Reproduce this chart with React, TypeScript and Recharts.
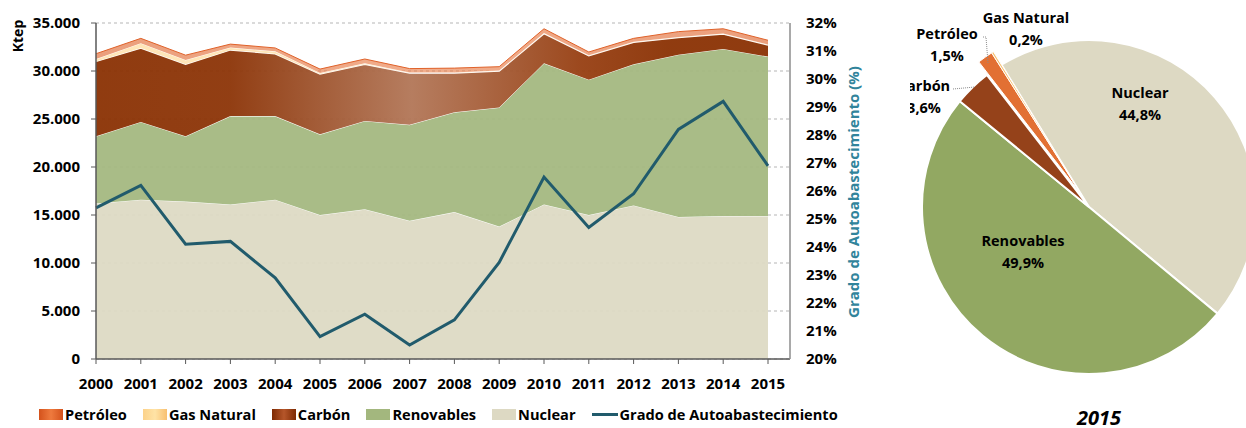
import React from 'react';
import { ComposedChart, Area, Line, XAxis, YAxis, CartesianGrid, PieChart, Pie, Cell } from 'recharts';

const years = [2000, 2001, 2002, 2003, 2004, 2005, 2006, 2007, 2008, 2009, 2010, 2011, 2012, 2013, 2014, 2015];
const nuclear = [16200, 16600, 16400, 16100, 16600, 15000, 15600, 14400, 15300, 13800, 16100, 15000, 16000, 14800, 14900, 14900];
const renovables = [7000, 8100, 6800, 9200, 8700, 8400, 9200, 10000, 10400, 12400, 14700, 14100, 14700, 16900, 17400, 16600];
const carbon = [7800, 7700, 7500, 6900, 6500, 6300, 5900, 5400, 4100, 3800, 3100, 2500, 2300, 1800, 1550, 1200];
const gasNatural = [250, 500, 450, 250, 250, 100, 100, 50, 50, 50, 50, 50, 50, 50, 50, 70];
const petroleo = [550, 500, 500, 350, 350, 400, 450, 400, 450, 400, 450, 330, 350, 550, 500, 430];
const grado = [25.4, 26.2, 24.1, 24.2, 22.9, 20.8, 21.6, 20.5, 21.4, 23.45, 26.5, 24.7, 25.9, 28.2, 29.2, 26.9];

const leftTicks = [0, 5000, 10000, 15000, 20000, 25000, 30000, 35000];
const rightTicks = [20, 21, 22, 23, 24, 25, 26, 27, 28, 29, 30, 31, 32];

const pieNames = ['Nuclear', 'Renovables', 'Carbón', 'Petróleo', 'Gas Natural'];
const pieValues = [44.8, 49.9, 3.6, 1.5, 0.2];
const pieYear = '2015';

const data = years.map((y, i) => ({
  year: y,
  nuclear: nuclear[i],
  renovables: renovables[i],
  carbon: carbon[i],
  gas: gasNatural[i],
  petroleo: petroleo[i],
  grado: grado[i],
}));

const pieData = pieNames.map((n, i) => ({ name: n, value: pieValues[i] }));

const pieColors: Record<string, string> = {
  'Nuclear': '#DDD9C3',
  'Renovables': '#92A862',
  'Carbón': '#95421A',
  'Petróleo': '#E27033',
  'Gas Natural': '#F7C172',
};
const exploded = new Set(['Petróleo', 'Gas Natural']);

const labelPos: Record<string, { dx: number; dy: number }> = {
  'Nuclear': { dx: 51, dy: -115 },
  'Renovables': { dx: -66, dy: 33 },
  'Carbón': { dx: -165, dy: -122 },
  'Petróleo': { dx: -142, dy: -174 },
  'Gas Natural': { dx: -63, dy: -190 },
};

const FONT = "'Open Sans', 'DejaVu Sans', sans-serif";

const fmtLeft = (v: number) => (v === 0 ? '0' : `${v / 1000}.000`);
const fmtPct = (v: number) => `${v.toFixed(1).replace('.', ',')}%`;

const renderPieLabel = (props: any) => {
  const { cx, cy, name, value } = props;
  const p = labelPos[name];
  if (!p) return null;
  const x = cx + p.dx;
  const y = cy + p.dy;
  return (
    <g>
      {name === 'Petróleo' && (
        <polyline points={`${cx - 106},${cy - 170} ${cx - 103},${cy - 170} ${cx - 101},${cy - 144}`} fill="none" stroke="#8c8c8c" strokeWidth={1} strokeDasharray="1 1" />
      )}
      {name === 'Carbón' && (
        <polyline points={`${cx - 136},${cy - 118} ${cx - 114},${cy - 120}`} fill="none" stroke="#8c8c8c" strokeWidth={1} strokeDasharray="1 1" />
      )}
      <text x={x} y={y} textAnchor="middle" dominantBaseline="central" fontFamily={FONT} fontWeight={700} fontSize={14.5} fill="#000">
        {name}
      </text>
      <text x={x} y={y + 22} textAnchor="middle" dominantBaseline="central" fontFamily={FONT} fontWeight={700} fontSize={14.5} fill="#000">
        {fmtPct(value)}
      </text>
    </g>
  );
};

const legendItems = [
  { label: 'Petróleo', bg: 'linear-gradient(90deg,#D4521C,#EE7A3E,#D4521C)', line: false },
  { label: 'Gas Natural', bg: 'linear-gradient(90deg,#FCD28A,#FFE3A6,#F8C070)', line: false },
  { label: 'Carbón', bg: 'linear-gradient(90deg,#7E2A02,#B5562A,#7E2A02)', line: false },
  { label: 'Renovables', bg: '#A3B77E', line: false },
  { label: 'Nuclear', bg: '#DDD9C3', line: false },
  { label: 'Grado de Autoabastecimiento', bg: '#215B6C', line: true },
];

export default function App() {
  return (
    <div style={{ position: 'absolute', left: 0, top: 0, width: 1246, height: 428, background: '#fff', overflow: 'hidden', fontFamily: FONT }}>
      <div style={{ position: 'absolute', left: 0, top: 0 }}>
        <ComposedChart width={910} height={428} data={data} margin={{ top: 23, right: 60, bottom: 39, left: 36 }}>
          <defs>
            <linearGradient id="gCarbon" x1="0" y1="0" x2="1" y2="0">
              <stop offset="0" stopColor="#8A3103" />
              <stop offset="0.2" stopColor="#8C3407" />
              <stop offset="0.47" stopColor="#B27657" />
              <stop offset="0.72" stopColor="#973F12" />
              <stop offset="0.85" stopColor="#8A3103" />
              <stop offset="1" stopColor="#8A3103" />
            </linearGradient>
            <linearGradient id="gPet" x1="0" y1="0" x2="1" y2="0">
              <stop offset="0" stopColor="#DD5E24" />
              <stop offset="0.5" stopColor="#E8773F" />
              <stop offset="1" stopColor="#DD5E24" />
            </linearGradient>
          </defs>
          <CartesianGrid yAxisId="left" vertical={false} stroke="#b5b5b5" strokeDasharray="3 3" />
          <XAxis
            dataKey="year"
            type="number"
            domain={[2000, 2015]}
            ticks={years}
            padding={{ left: 0, right: 22 }}
            height={30}
            tickSize={5}
            tickMargin={14}
            axisLine={{ stroke: '#595959', strokeWidth: 1.5 }}
            tickLine={{ stroke: '#595959' }}
            tick={{ fill: '#000', fontSize: 15, fontWeight: 700, fontFamily: FONT }}
            interval={0}
          />
          <YAxis
            yAxisId="left"
            orientation="left"
            width={60}
            domain={[0, 35000]}
            ticks={leftTicks}
            tickFormatter={fmtLeft}
            tickSize={5}
            tickMargin={11}
            axisLine={{ stroke: '#595959', strokeWidth: 1.5 }}
            tickLine={{ stroke: '#595959' }}
            tick={{ fill: '#000', fontSize: 15, fontWeight: 700, fontFamily: FONT }}
            allowDataOverflow
          />
          <YAxis
            yAxisId="right"
            orientation="right"
            width={60}
            domain={[20, 32]}
            ticks={rightTicks}
            tickFormatter={(v: number) => `${v}%`}
            tickSize={6}
            tickMargin={10}
            axisLine={{ stroke: '#8c8c8c', strokeWidth: 1.5 }}
            tickLine={false}
            tick={{ fill: '#000', fontSize: 15, fontWeight: 700, fontFamily: FONT }}
            allowDataOverflow
          />
          <Area yAxisId="left" type="linear" dataKey="nuclear" stackId="a" fill="#DDD9C3" fillOpacity={0.93} stroke="#ffffff" strokeWidth={1} isAnimationActive={false} />
          <Area yAxisId="left" type="linear" dataKey="renovables" stackId="a" fill="#A3B77E" fillOpacity={0.93} stroke="#ffffff" strokeWidth={1} isAnimationActive={false} />
          <Area yAxisId="left" type="linear" dataKey="carbon" stackId="a" fill="url(#gCarbon)" fillOpacity={0.95} stroke="#ffffff" strokeWidth={1.5} isAnimationActive={false} />
          <Area yAxisId="left" type="linear" dataKey="gas" stackId="a" fill="#FFD68A" stroke="#ffffff" strokeWidth={1} isAnimationActive={false} />
          <Area yAxisId="left" type="linear" dataKey="petroleo" stackId="a" fill="url(#gPet)" stroke="#E0622A" strokeWidth={1} isAnimationActive={false} />
          <Line yAxisId="right" type="linear" dataKey="grado" stroke="#215B6C" strokeWidth={3} dot={false} isAnimationActive={false} />
        </ComposedChart>
      </div>

      <div style={{ position: 'absolute', left: 17.5, top: 36, transform: 'translate(-50%,-50%) rotate(-90deg)', whiteSpace: 'nowrap', fontSize: 14, fontWeight: 700, color: '#000', lineHeight: '16px' }}>
        Ktep
      </div>
      <div style={{ position: 'absolute', left: 853, top: 192, transform: 'translate(-50%,-50%) rotate(-90deg)', whiteSpace: 'nowrap', fontSize: 15, fontWeight: 700, color: '#31849B', lineHeight: '18px' }}>
        Grado de Autoabastecimiento (%)
      </div>

      <div style={{ position: 'absolute', left: 39, top: 404, display: 'flex', alignItems: 'center', whiteSpace: 'nowrap' }}>
        {legendItems.map((it) => (
          <div key={it.label} style={{ display: 'flex', alignItems: 'center', marginRight: 16 }}>
            <div style={{ width: it.line ? 26 : 24, height: it.line ? 3 : 11, background: it.bg, marginRight: 2 }} />
            <span style={{ fontSize: 14.6, fontWeight: 700, color: '#000', lineHeight: '20px' }}>{it.label}</span>
          </div>
        ))}
      </div>

      <div style={{ position: 'absolute', left: 910, top: 0, width: 336, height: 428, overflow: 'hidden' }}>
        <PieChart width={336} height={428} margin={{ top: 0, right: 0, bottom: 0, left: 0 }}>
          <Pie
            data={pieData}
            dataKey="value"
            nameKey="name"
            cx={179}
            cy={207}
            outerRadius={167}
            startAngle={121.6}
            endAngle={-238.4}
            label={renderPieLabel}
            labelLine={false}
            isAnimationActive={false}
          >
            {pieData.map((d) => (
              <Cell key={d.name} fill={exploded.has(d.name) ? 'none' : pieColors[d.name]} stroke={exploded.has(d.name) ? 'none' : '#ffffff'} strokeWidth={2} />
            ))}
          </Pie>
          <Pie
            data={pieData}
            dataKey="value"
            nameKey="name"
            cx={171}
            cy={194}
            outerRadius={167}
            startAngle={121.6}
            endAngle={-238.4}
            isAnimationActive={false}
          >
            {pieData.map((d) => (
              <Cell key={d.name} fill={exploded.has(d.name) ? pieColors[d.name] : 'none'} stroke={exploded.has(d.name) ? '#ffffff' : 'none'} strokeWidth={1} />
            ))}
          </Pie>
        </PieChart>
      </div>
      <div style={{ position: 'absolute', left: 1099, top: 404, transform: 'translateX(-50%)', fontSize: 20, fontWeight: 700, fontStyle: 'italic', color: '#000', lineHeight: '28px' }}>
        {pieYear}
      </div>
    </div>
  );
}
